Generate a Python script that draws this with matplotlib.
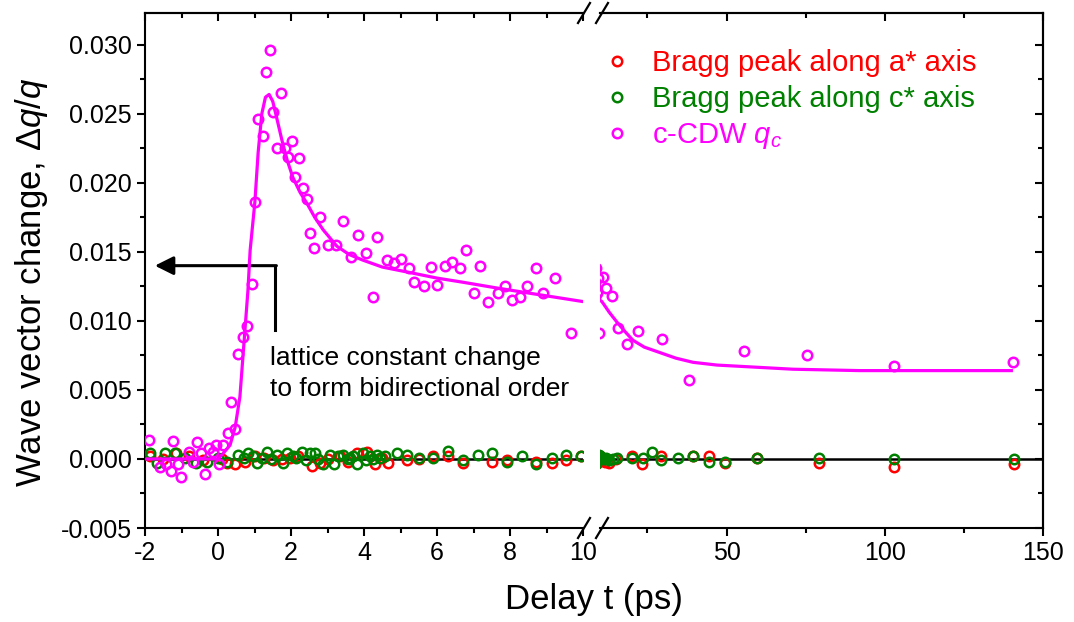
import numpy as np
import matplotlib
matplotlib.use('Agg')
import matplotlib.pyplot as plt
from matplotlib.lines import Line2D
from matplotlib.ticker import MultipleLocator, FormatStrFormatter

plt.rcParams['font.family'] = ['Liberation Sans', 'DejaVu Sans']
plt.rcParams['mathtext.fontset'] = 'custom'
plt.rcParams['mathtext.rm'] = 'Liberation Sans'
plt.rcParams['mathtext.it'] = 'Liberation Sans:italic'
plt.rcParams['axes.unicode_minus'] = False

# c-CDW q_c points
cdw_t = [-1.89, -1.59, -1.42, -1.29, -1.23, -1.10, -1.01, -0.79, -0.68, -0.58, -0.47, -0.36,
         -0.25, -0.14, -0.05, 0.03, 0.14, 0.27, 0.36, 0.47, 0.55, 0.68, 0.79, 0.93, 1.01, 1.10,
         1.23, 1.32, 1.42, 1.51, 1.62, 1.73, 1.84, 1.92, 2.03, 2.11, 2.22, 2.33, 2.44, 2.52,
         2.63, 2.79, 3.02, 3.22, 3.42, 3.64, 3.84, 4.05, 4.25, 4.36, 4.63, 4.82, 5.01, 5.23,
         5.37, 5.64, 5.84, 6.00, 6.22, 6.41, 6.63, 6.79, 7.01, 7.18, 7.40, 7.67, 7.86, 8.05,
         8.27, 8.47, 8.71, 8.90, 9.23, 9.67,
         10.9, 11.9, 13.8, 15.7, 18.5, 22.0, 29.6, 38.2, 55.6, 75.5, 103.0, 140.4]
cdw_q = [0.0014, -0.0006, -0.0004, -0.0009, 0.0013, -0.0004, -0.0013, 0.0005, -0.0002, 0.0012,
         0.0004, -0.0011, 0.0008, 0.0005, 0.0010, -0.0004, 0.0010, 0.0019, 0.0041, 0.0022,
         0.0076, 0.0088, 0.0096, 0.0127, 0.0186, 0.0246, 0.0234, 0.0280, 0.0296, 0.0251,
         0.0225, 0.0265, 0.0225, 0.0219, 0.0230, 0.0204, 0.0218, 0.0196, 0.0188, 0.0164,
         0.0153, 0.0175, 0.0155, 0.0155, 0.0172, 0.0146, 0.0162, 0.0149, 0.0117, 0.0161,
         0.0144, 0.0142, 0.0145, 0.0138, 0.0128, 0.0125, 0.0139, 0.0126, 0.0140, 0.0143,
         0.0138, 0.0151, 0.0120, 0.0140, 0.0114, 0.0120, 0.0125, 0.0115, 0.0117, 0.0125,
         0.0138, 0.0120, 0.0131, 0.0091,
         0.0132, 0.0124, 0.0118, 0.0095, 0.0083, 0.0093, 0.0087, 0.0057, 0.0078, 0.0075,
         0.0067, 0.0070]

# fit curve
fit1_t = [-2.0, 0.0, 0.14, 0.33, 0.47, 0.60, 0.70, 0.82, 0.88, 1.01, 1.10, 1.20, 1.30, 1.40,
          1.50, 1.60, 1.75, 1.90, 2.05, 2.25, 2.44, 2.65, 2.88, 3.26, 3.60, 3.97, 4.50, 5.26,
          6.00, 6.71, 7.60, 8.55, 10.0]
fit1_q = [0.0, 0.0, 0.0004, 0.0010, 0.0023, 0.0045, 0.0080, 0.0122, 0.0151, 0.0186, 0.0222,
          0.0250, 0.0262, 0.0264, 0.0259, 0.0248, 0.0231, 0.0216, 0.0204, 0.0193, 0.0185,
          0.0175, 0.0166, 0.0154, 0.0148, 0.0144, 0.0139, 0.0135, 0.0131, 0.0128, 0.0124,
          0.0120, 0.0114]
fit2_t = [10.0, 10.6, 13.0, 15.4, 18.0, 20.4, 24.0, 29.0, 34.0, 39.4, 47.0, 55.0, 71.0, 92.0, 140.0]
fit2_q = [0.0115, 0.0114, 0.0106, 0.0099, 0.0092, 0.0086, 0.0081, 0.0077, 0.0073, 0.0070,
          0.0068, 0.0067, 0.0065, 0.0064, 0.0064]

# Bragg peak along a*
a_t = [-1.86, -1.50, -1.14, -0.80, -0.40, 0.10, 0.24, 0.47, 0.74, 1.01, 1.25, 1.52, 1.75, 1.97,
       2.20, 2.57, 2.79, 3.00, 3.34, 3.55, 3.80, 4.09, 4.30, 4.50, 4.67, 5.17, 5.50, 5.90, 6.31,
       6.70, 7.52, 7.93, 8.71, 9.14, 9.53, 9.94,
       10.5, 11.5, 13.0, 15.0, 20.0, 23.4, 29.4, 39.5, 44.5, 49.5, 59.6, 79.3, 103.0, 140.8]
a_q = [0.0002, 0.0000, 0.0004, 0.0002, -0.0001, 0.0000, -0.0003, -0.0004, -0.0002, 0.0002,
       0.0001, -0.0001, 0.0000, 0.0001, 0.0002, -0.0005, -0.0003, 0.0000, 0.0002, -0.0002,
       0.0004, 0.0005, -0.0004, 0.0001, -0.0003, -0.0001, 0.0000, 0.0002, 0.0002, -0.0003,
       -0.0002, -0.0001, -0.0002, -0.0003, -0.0001, 0.0002,
       -0.0001, -0.0002, -0.0003, 0.0000, 0.0002, -0.0004, 0.0002, 0.0002, 0.0002, -0.0003,
       0.0001, -0.0003, -0.0006, -0.0004]

# Bragg peak along c*
c_t = [-1.86, -1.68, -1.45, -1.18, -0.90, -0.60, -0.30, 0.00, 0.25, 0.56, 0.70, 0.83, 0.95,
       1.06, 1.20, 1.33, 1.45, 1.61, 1.79, 1.88, 2.06, 2.15, 2.29, 2.40, 2.52, 2.66, 2.75, 2.89,
       3.07, 3.18, 3.30, 3.43, 3.55, 3.62, 3.70, 3.80, 3.98, 4.05, 4.16, 4.25, 4.35, 4.45, 4.58,
       4.90, 5.19, 5.50, 5.90, 6.31, 6.70, 7.11, 7.52, 7.93, 8.32, 8.71, 9.14, 9.53, 9.94,
       10.5, 11.3, 12.0, 13.0, 14.0, 15.5, 20.1, 23.5, 26.4, 29.4, 34.5, 39.5, 44.5, 49.5,
       59.6, 79.3, 103.0, 140.8]
c_q = [0.0004, -0.0003, 0.0004, 0.0004, 0.0001, -0.0003, -0.0002, 0.0001, -0.0002, 0.0003,
       0.0001, 0.0004, 0.0002, -0.0003, 0.0001, 0.0005, 0.0000, 0.0003, -0.0003, 0.0004,
       0.0002, 0.0001, 0.0005, -0.0001, 0.0004, 0.0004, 0.0000, -0.0004, 0.0003, -0.0004,
       0.0002, 0.0003, 0.0000, 0.0001, 0.0002, -0.0004, 0.0004, -0.0001, 0.0002, 0.0000,
       0.0003, 0.0001, 0.0002, 0.0004, 0.0003, 0.0001, 0.0001, 0.0006, -0.0001, 0.0003,
       0.0004, -0.0002, 0.0002, -0.0004, 0.0001, 0.0003, 0.0002,
       0.0001, 0.0000, 0.0001, -0.0001, 0.0000, 0.0001, 0.0001, 0.0001, 0.0005, -0.0001,
       0.0001, 0.0002, -0.0002, -0.0002, 0.0001, 0.0001, 0.0000, 0.0000]

RED = '#FF0000'
GREEN = '#008000'
MAG = '#FF00FF'

W, H = 1074, 622
fig = plt.figure(figsize=(W / 100, H / 100), dpi=100)


def box(x0, y0, x1, y1):
    return [x0 / W, 1 - y1 / H, (x1 - x0) / W, (y1 - y0) / H]


ax1 = fig.add_axes(box(145, 13, 583, 528))
ax2 = fig.add_axes(box(600, 13, 1043, 528), sharey=ax1)

mk = dict(ls='none', marker='o', mfc='none', ms=6.8, mew=1.8)
for ax in (ax1, ax2):
    ax.axhline(0, color='k', lw=1.8, zorder=1)
    ax.plot(a_t, a_q, mec=RED, zorder=2, **mk)
    ax.plot(c_t, c_q, mec=GREEN, zorder=3, **mk)
    ax.plot(cdw_t, cdw_q, mec=MAG, zorder=4, **mk)
    for s in ax.spines.values():
        s.set_linewidth(1.5)
ax1.plot(fit1_t, fit1_q, color=MAG, lw=2.3, zorder=5)
ax2.plot(fit2_t, fit2_q, color=MAG, lw=2.3, zorder=5)

ax1.set_xlim(-2, 10)
ax2.set_xlim(10, 150)
ax1.set_ylim(-0.005, 0.0323)

ax1.spines['right'].set_visible(False)
ax2.spines['left'].set_visible(False)

ax1.xaxis.set_major_locator(MultipleLocator(2))
ax1.xaxis.set_minor_locator(MultipleLocator(1))
ax2.set_xticks([50, 100, 150])
ax2.xaxis.set_minor_locator(MultipleLocator(25))
ax1.yaxis.set_major_locator(MultipleLocator(0.005))
ax1.yaxis.set_minor_locator(MultipleLocator(0.0025))
ax1.yaxis.set_major_formatter(FormatStrFormatter('%.3f'))

for ax in (ax1, ax2):
    ax.tick_params(which='major', direction='out', length=6, width=1.5, labelsize=18)
    ax.tick_params(which='minor', direction='out', length=3.5, width=1.5)
ax2.tick_params(axis='y', which='both', left=False, labelleft=False)

# inward ticks on top and right
for ax, maj, mnr in ((ax1, 2, 1), (ax2, 50, 25)):
    top = ax.secondary_xaxis('top')
    top.xaxis.set_major_locator(MultipleLocator(maj))
    top.xaxis.set_minor_locator(MultipleLocator(mnr))
    top.tick_params(which='major', direction='in', length=6, width=1.5, labeltop=False)
    top.tick_params(which='minor', direction='in', length=3.5, width=1.5)
    top.spines['top'].set_linewidth(1.5)
rgt = ax2.secondary_yaxis('right')
rgt.yaxis.set_major_locator(MultipleLocator(0.005))
rgt.yaxis.set_minor_locator(MultipleLocator(0.0025))
rgt.tick_params(which='major', direction='in', length=6, width=1.5, labelright=False)
rgt.tick_params(which='minor', direction='in', length=3.5, width=1.5)
rgt.spines['right'].set_linewidth(1.5)

# axis break marks
for yc in (13, 528):
    for xc in (584, 602):
        fig.add_artist(Line2D([(xc - 6) / W, (xc + 6) / W],
                              [1 - (yc + 10) / H, 1 - (yc - 10) / H],
                              color='k', lw=1.6, transform=fig.transFigure))

fig.text(32 / W, 1 - 282 / H, r'Wave vector change, $\mathit{\Delta q/q}$',
         rotation=90, ha='center', va='center', fontsize=25)
fig.text(594 / W, 1 - 600 / H, 'Delay t (ps)', ha='center', va='center', fontsize=25)

# annotation arrow
ax1.annotate('', xy=(-1.73, 0.0140), xytext=(1.60, 0.0140),
             arrowprops=dict(arrowstyle='-|>', lw=2.2, color='k', mutation_scale=28,
                             shrinkA=0, shrinkB=0))
ax1.plot([1.56, 1.56], [0.0140, 0.00935], color='k', lw=2.2)
ax1.text(1.42, 0.0082, 'lattice constant change\nto form bidirectional order',
         fontsize=19, va='top', ha='left', linespacing=1.4)

handles = [Line2D([], [], color=c, **mk) for c in (RED, GREEN, MAG)]
for h, c in zip(handles, (RED, GREEN, MAG)):
    h.set_markeredgecolor(c)
leg = fig.legend(handles, ['Bragg peak along a* axis', 'Bragg peak along c* axis',
                           r'c-CDW $q_c$'],
                 loc='upper left', bbox_to_anchor=(602 / W, 1 - 49 / H),
                 bbox_transform=fig.transFigure, frameon=False, fontsize=21,
                 handlelength=1.0, handletextpad=0.7, borderpad=0, borderaxespad=0,
                 labelspacing=0.27)
for t, c in zip(leg.get_texts(), (RED, GREEN, MAG)):
    t.set_color(c)

fig.savefig('out.png', dpi=100)
